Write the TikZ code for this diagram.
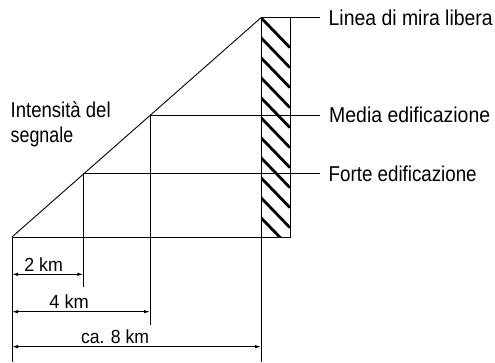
\documentclass[tikz,border=0pt]{standalone}
\usepackage{fontspec}
\usepackage{graphicx}
\setmainfont{Liberation Sans}
\usetikzlibrary{arrows.meta}
\newcommand{\fitw}[2]{\resizebox{#1}{\height}{#2}}
\begin{document}
\begin{tikzpicture}[x=1pt,y=-1pt,
  thinline/.style={line width=0.9pt, draw=black},
  hatchline/.style={line width=2.8pt, draw=black},
  dimarrow/.style={thinline,{Latex[length=6pt,width=3.5pt]}-{Latex[length=6pt,width=3.5pt]}},
  lbl/.style={font=\fontsize{21.5}{25}\selectfont, inner sep=0pt, anchor=base west},
  dimlbl/.style={font=\fontsize{19}{22}\selectfont, inner sep=0pt, anchor=base}]
\useasboundingbox (0,0) rectangle (495,362);
% key points
\coordinate (O) at (12,237);
\coordinate (A) at (261,17.7);
\coordinate (S) at (83.3,173.7);
\coordinate (M) at (150,115.7);
\coordinate (RT) at (290,17.7);
\coordinate (RB) at (290,237);
\coordinate (Tend) at (320,17.7);
\coordinate (Mend) at (320,115.7);
\coordinate (Send) at (320,173.7);
\coordinate (Sbot) at (83.3,286.7);
\coordinate (Mbot) at (150,325);
\coordinate (Obot) at (12,362);
\coordinate (Abot) at (261,362);
\coordinate (D2a) at (12,274.3);
\coordinate (D2b) at (83.3,274.3);
\coordinate (D4a) at (12,311.7);
\coordinate (D4b) at (150,311.7);
\coordinate (D8a) at (12,346.7);
\coordinate (D8b) at (261,346.7);
% hatching
\begin{scope}
  \clip (A) rectangle (RB);
  \foreach \y in {17.7,37.7,...,230} \draw[hatchline] (261,\y) -- ++(29,30);
\end{scope}
% building rectangle
\draw[thinline] (A) rectangle (RB);
% slope and level lines
\draw[thinline] (O) -- (A);
\draw[thinline] (O) -- (RB);
\draw[thinline] (A) -- (Tend);
\draw[thinline] (M) -- (Mend);
\draw[thinline] (S) -- (Send);
% verticals
\draw[thinline] (S) -- (Sbot);
\draw[thinline] (M) -- (Mbot);
\draw[thinline] (O) -- (Obot);
\draw[thinline] (A) -- (Abot);
% dimension arrows
\draw[dimarrow] (D2a) -- (D2b);
\draw[dimarrow] (D4a) -- (D4b);
\draw[dimarrow] (D8a) -- (D8b);
% labels
\node[lbl] (l1) at (328.5,25.7) {\fitw{164pt}{Linea di mira libera}};
\node[lbl] (l2) at (329,122.7) {\fitw{161pt}{Media edificazione}};
\node[lbl] (l3) at (328.5,181) {\fitw{148pt}{Forte edificazione}};
\node[lbl] (i1) at (10.5,117) {\fitw{100pt}{Intensità del}};
\node[lbl] (i2) at (10.5,142) {\fitw{62.5pt}{segnale}};
\node[dimlbl] (d2) at (43.7,271.5) {\fitw{38.5pt}{2 km}};
\node[dimlbl] (d4) at (69.2,308.3) {\fitw{39.5pt}{4 km}};
\node[dimlbl] (d8) at (115,343) {\fitw{68pt}{ca. 8 km}};
\end{tikzpicture}
\end{document}
